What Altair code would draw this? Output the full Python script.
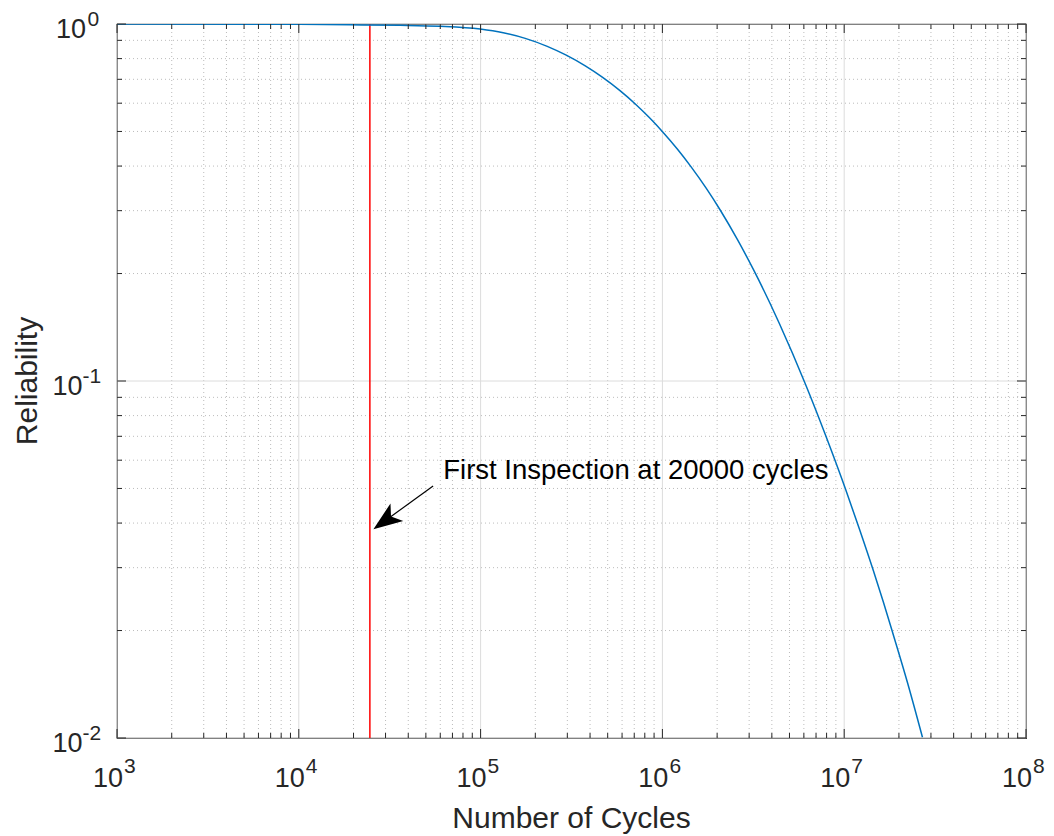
import altair as alt
import pandas as pd

# ---------------- data ----------------
cycles = [1.0e3, 1.0e4, 1.916e4, 3.609e4, 5.994e4, 9.949e4, 1.3315e5, 1.760e5,
          2.326e5, 2.959e5, 3.765e5, 4.670e5, 5.866e5, 7.095e5, 8.473e5, 9.987e5,
          1.2078e6, 1.4421e6, 1.7444e6, 2.0830e6, 2.5837e6, 3.1645e6, 4.3985e6,
          6.1154e6, 7.880e6, 1.0153e7, 1.2124e7, 1.4477e7, 1.6435e7, 1.8655e7,
          2.2280e7, 2.6936e7]
reliability = [1.0, 0.998, 0.9949, 0.9917, 0.9853, 0.9677, 0.9449, 0.9114,
               0.8657, 0.8177, 0.7631, 0.7096, 0.6495, 0.5970, 0.5469, 0.5000,
               0.4464, 0.3972, 0.3463, 0.3008, 0.2492, 0.2054, 0.1449,
               0.0981, 0.0707, 0.0499, 0.0385, 0.0294, 0.0240, 0.0194,
               0.0143, 0.01005]

inspection_x = [24600]

x_major = [1e3, 1e4, 1e5, 1e6, 1e7, 1e8]
x_exp = ["3", "4", "5", "6", "7", "8"]
x_minor = [m * 10.0 ** e for e in range(3, 8) for m in range(2, 10)]

y_major = [0.01, 0.1, 1.0]
y_exp = ["-2", "-1", "0"]
y_minor = [m * 10.0 ** e for e in (-2, -1) for m in range(2, 10)]

# annotation (data coordinates)
arrow_tail = (54800, 0.0508)
arrow_head_center = (29850, 0.0406)
annot_text = "First Inspection at 20000 cycles"
annot_pos = (62300, 0.0531)

x_title = "Number of Cycles"
y_title = "Reliability"

# ---------------- layout ----------------
W, H = 909, 714
FONT = "Liberation Sans"
AX = "#262626"

xs = alt.Scale(type="log", domain=[1e3, 1e8], nice=False)
ys = alt.Scale(type="log", domain=[0.01, 1.0], nice=False)

curve_df = pd.DataFrame({"x": cycles, "r": reliability})
xmaj_df = pd.DataFrame({"v": x_major, "e": x_exp})
xmin_df = pd.DataFrame({"v": x_minor})
ymaj_df = pd.DataFrame({"v": y_major, "e": y_exp})
ymin_df = pd.DataFrame({"v": y_minor})


def X(field="v"):
    return alt.X(f"{field}:Q", scale=xs, axis=None)


def Y(field="v"):
    return alt.Y(f"{field}:Q", scale=ys, axis=None)


def vrule(df, y0, y1, **kw):
    return alt.Chart(df).mark_rule(**kw).encode(x=X(), y=alt.value(y0), y2=alt.value(y1))


def hrule(df, x0, x1, **kw):
    return alt.Chart(df).mark_rule(**kw).encode(y=Y(), x=alt.value(x0), x2=alt.value(x1))


layers = []

# grids
layers.append(vrule(xmin_df, 0, H, color="#bcbcbc", strokeWidth=1, strokeDash=[1, 3]))
layers.append(hrule(ymin_df, 0, W, color="#bcbcbc", strokeWidth=1, strokeDash=[1, 3]))
layers.append(vrule(xmaj_df, 0, H, color="#dcdcdc", strokeWidth=1))
layers.append(hrule(ymaj_df, 0, W, color="#dcdcdc", strokeWidth=1))

# inspection line
layers.append(vrule(pd.DataFrame({"v": inspection_x}), 0, H, color="#ff0000", strokeWidth=1.5))

# reliability curve
layers.append(
    alt.Chart(curve_df)
    .mark_line(color="#0072BD", strokeWidth=1.5, interpolate="monotone", clip=True)
    .encode(x=X("x"), y=Y("r"))
)

# ticks (inward, all four sides)
MJ, MN = 9, 5
layers.append(vrule(xmaj_df, H, H - MJ, color=AX, strokeWidth=1))
layers.append(vrule(xmin_df, H, H - MN, color=AX, strokeWidth=1))
layers.append(vrule(xmaj_df, 0, MJ, color=AX, strokeWidth=1))
layers.append(vrule(xmin_df, 0, MN, color=AX, strokeWidth=1))
layers.append(hrule(ymaj_df, 0, MJ, color=AX, strokeWidth=1))
layers.append(hrule(ymin_df, 0, MN, color=AX, strokeWidth=1))
layers.append(hrule(ymaj_df, W, W - MJ, color=AX, strokeWidth=1))
layers.append(hrule(ymin_df, W, W - MN, color=AX, strokeWidth=1))

# x tick labels: 10^e
layers.append(
    alt.Chart(xmaj_df)
    .mark_text(font=FONT, fontSize=27, color=AX, align="right", baseline="alphabetic", dx=6)
    .encode(x=X(), y=alt.value(H + 48.5), text=alt.value("10"))
)
layers.append(
    alt.Chart(xmaj_df)
    .mark_text(font=FONT, fontSize=21, color=AX, align="left", baseline="alphabetic", dx=7)
    .encode(x=X(), y=alt.value(H + 35), text="e:N")
)

# y tick labels: 10^e
layers.append(
    alt.Chart(ymaj_df)
    .transform_filter("datum.e == '0'")
    .mark_text(font=FONT, fontSize=27, color=AX, align="right", baseline="alphabetic", dy=14)
    .encode(y=Y(), x=alt.value(-31), text=alt.value("10"))
)
layers.append(
    alt.Chart(ymaj_df)
    .transform_filter("datum.e != '0'")
    .mark_text(font=FONT, fontSize=27, color=AX, align="right", baseline="alphabetic", dy=14)
    .encode(y=Y(), x=alt.value(-34.5), text=alt.value("10"))
)
layers.append(
    alt.Chart(ymaj_df)
    .transform_filter("datum.e == '0'")
    .mark_text(font=FONT, fontSize=21, color=AX, align="left", baseline="alphabetic", dy=2)
    .encode(y=Y(), x=alt.value(-29.5), text="e:N")
)
layers.append(
    alt.Chart(ymaj_df)
    .transform_filter("datum.e != '0'")
    .mark_text(font=FONT, fontSize=21, color=AX, align="left", baseline="alphabetic", dy=2)
    .encode(y=Y(), x=alt.value(-34.5), text="e:N")
)

# axis titles
layers.append(
    alt.Chart(pd.DataFrame({"t": [x_title]}))
    .mark_text(font=FONT, fontSize=30, color=AX, align="center", baseline="alphabetic")
    .encode(x=alt.value(W / 2), y=alt.value(H + 90), text="t:N")
)
layers.append(
    alt.Chart(pd.DataFrame({"t": [y_title]}))
    .mark_text(font=FONT, fontSize=30, color=AX, align="center", baseline="alphabetic", angle=270)
    .encode(x=alt.value(-80), y=alt.value(H / 2), text="t:N")
)

# annotation arrow
arrow_df = pd.DataFrame({"x": [arrow_tail[0]], "y": [arrow_tail[1]],
                         "x2": [arrow_head_center[0]], "y2": [arrow_head_center[1]]})
layers.append(
    alt.Chart(arrow_df)
    .mark_rule(color="black", strokeWidth=1.2)
    .encode(x=X("x"), y=Y("y"), x2="x2:Q", y2="y2:Q")
)
head_df = pd.DataFrame({"x": [arrow_head_center[0]], "y": [arrow_head_center[1]]})
layers.append(
    alt.Chart(head_df)
    .mark_point(shape="M0,-1L0.75,1L0,0.5L-0.75,1Z", size=841, angle=234,
                filled=True, color="black", opacity=1, strokeWidth=0)
    .encode(x=X("x"), y=Y("y"))
)
text_df = pd.DataFrame({"x": [annot_pos[0]], "y": [annot_pos[1]], "t": [annot_text]})
layers.append(
    alt.Chart(text_df)
    .mark_text(font=FONT, fontSize=27.5, color="black", align="left", baseline="alphabetic")
    .encode(x=X("x"), y=Y("y"), text="t:N")
)

chart = (
    alt.layer(*layers)
    .properties(
        width=W,
        height=H,
        padding={"left": 117, "top": 24, "right": 28, "bottom": 98},
        autosize=alt.AutoSizeParams(type="none"),
        background="white",
    )
    .configure_view(stroke=AX, strokeWidth=1.2)
)

chart.save("out.html", embed_options={"renderer": "svg", "actions": False})
